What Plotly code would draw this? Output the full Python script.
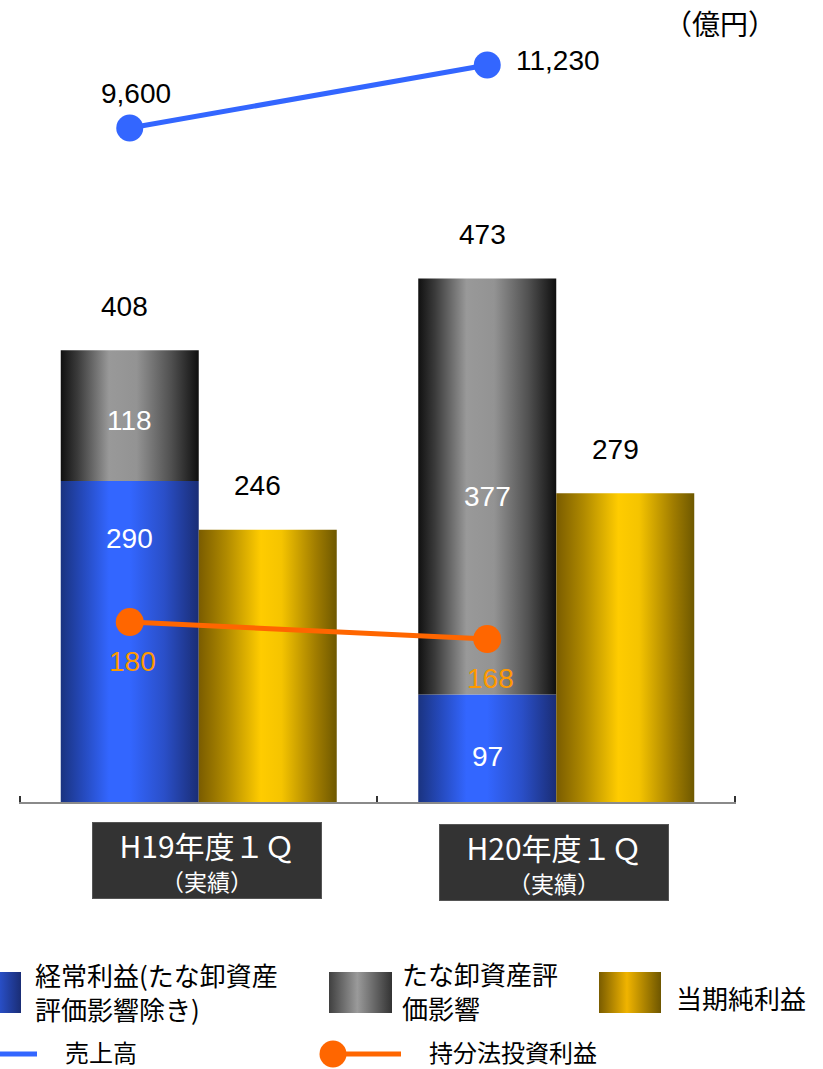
import plotly.graph_objects as go

# ---------------- data ----------------
categories = ["H19年度１Ｑ", "H20年度１Ｑ"]
category_sub = ["（実績）", "（実績）"]
ordinary_income = [408, 473]     # 経常利益 (total)
ordinary_ex_inv = [290, 97]      # 経常利益(たな卸資産評価影響除き)
inventory_effect = [118, 377]    # たな卸資産評価影響
net_income = [246, 279]          # 当期純利益
sales = [9600, 11230]            # 売上高
equity_income = [180, 168]       # 持分法投資利益
unit_label = "（億円）"
legend_names = ["経常利益(たな卸資産<br>評価影響除き)", "たな卸資産評<br>価影響", "当期純利益",
                "売上高", "持分法投資利益"]

# ---------------- styling / layout ----------------
W, H = 823, 1069
PL, PR, PB = 20, 735, 802          # plot area in pixels
PX_PER_UNIT = 1.107
BAR_W = 0.386
NUM_FONT = "Liberation Sans, Arial, sans-serif"
JP_FONT = "Noto Sans CJK JP, sans-serif"

BLUE_CS = [[0, "#1a3380"], [0.15, "#2448b8"], [0.35, "#3366ff"], [0.5, "#3366ff"],
           [0.75, "#2a4fc8"], [1, "#1a2d75"]]
GRAY_CS = [[0, "#101010"], [0.12, "#3a3a3a"], [0.35, "#999999"], [0.55, "#939393"],
           [0.8, "#505050"], [1, "#0f0f0f"]]
GOLD_CS = [[0, "#7a5c00"], [0.2, "#b08a00"], [0.45, "#ffcc00"], [0.6, "#f5c400"],
           [0.85, "#a07c00"], [1, "#6e5800"]]
LEG_BLUE_CS = [[0, "#1a3380"], [0.4, "#3366ff"], [1, "#1a2d75"]]
LEG_GRAY_CS = [[0, "#404040"], [0.45, "#9a9a9a"], [1, "#333333"]]
LEG_GOLD_CS = [[0, "#7a5c00"], [0.45, "#f0b400"], [1, "#6e5600"]]

SALES_COLOR = "#3366ff"
EQ_COLOR = "#ff6600"
EQ_LABEL_COLOR = "#ff9900"
inner_label_shift = {("blue", 0): 103, ("blue", 1): -8, ("gray", 0): -5, ("gray", 1): -10}
box_xshift = [8, -2]
box_ycenter = [860, 862]

def py(p):
    return 1 - p / H

# secondary axis ranges so lines sit where they do in the picture
y_main_range = [0, PB / PX_PER_UNIT]
y_sales_range = [-7838, 12912]
y_eq_range = [53, 619]
X_PAD = 0.003

fig = go.Figure()
centers = [i + 0.5 for i in range(len(categories))]

def rect(x0, x1, b, t, cs, axis="y"):
    fig.add_trace(go.Scatter(
        x=[x0, x1, x1, x0, x0], y=[b, b, t, t, b], mode="lines", fill="toself",
        line=dict(width=0), fillgradient=dict(type="horizontal", colorscale=cs),
        hoverinfo="skip", showlegend=False, yaxis=axis))

annotations = []
for i, c in enumerate(centers):
    base_top = ordinary_ex_inv[i]
    total = ordinary_income[i]
    rect(c - BAR_W, c, 0, base_top, BLUE_CS)
    rect(c - BAR_W, c, base_top, total, GRAY_CS)
    rect(c, c + BAR_W, 0, net_income[i], GOLD_CS)
    sc = c - BAR_W / 2
    gc = c + BAR_W / 2
    annotations.append(dict(x=sc, y=total, xref="x", yref="y", text=str(total), showarrow=False,
                            yshift=44, xshift=-5, font=dict(family=NUM_FONT, size=28, color="black")))
    annotations.append(dict(x=gc, y=net_income[i], xref="x", yref="y", text=str(net_income[i]),
                            showarrow=False, yshift=44, xshift=-10,
                            font=dict(family=NUM_FONT, size=28, color="black")))
    annotations.append(dict(x=sc, y=base_top / 2, xref="x", yref="y", text=str(ordinary_ex_inv[i]),
                            showarrow=False, yshift=inner_label_shift[("blue", i)],
                            font=dict(family=NUM_FONT, size=28, color="white")))
    annotations.append(dict(x=sc, y=(base_top + total) / 2, xref="x", yref="y",
                            text=str(inventory_effect[i]), showarrow=False,
                            yshift=inner_label_shift[("gray", i)],
                            font=dict(family=NUM_FONT, size=28, color="white")))
    # category boxes
    annotations.append(dict(x=c, y=py(box_ycenter[i]), xref="x", yref="paper", xshift=box_xshift[i],
                            yanchor="middle", xanchor="center",
                            text=(f"<span style='font-size:30px'>{categories[i]}</span><br>"
                                  f"<span style='font-size:23px'>{category_sub[i]}</span>"),
                            showarrow=False, width=228, height=75, bgcolor="#333333",
                            bordercolor="#555555", borderwidth=1, borderpad=0,
                            font=dict(family=JP_FONT, size=26, color="white")))

line_x = [c - BAR_W / 2 for c in centers]
fig.add_trace(go.Scatter(x=line_x, y=equity_income, mode="lines+markers", yaxis="y3",
                         line=dict(color=EQ_COLOR, width=5), marker=dict(size=28, color=EQ_COLOR),
                         hoverinfo="skip", showlegend=False))
fig.add_trace(go.Scatter(x=line_x, y=sales, mode="lines+markers", yaxis="y2",
                         line=dict(color=SALES_COLOR, width=5), marker=dict(size=27, color=SALES_COLOR),
                         hoverinfo="skip", showlegend=False))

for i, x in enumerate(line_x):
    annotations.append(dict(x=x, y=equity_income[i], xref="x", yref="y3", text=str(equity_income[i]),
                            showarrow=False, yshift=-39, xshift=3,
                            font=dict(family=NUM_FONT, size=28, color=EQ_LABEL_COLOR)))
annotations.append(dict(x=line_x[0], y=sales[0], xref="x", yref="y2", text=f"{sales[0]:,}",
                        showarrow=False, yshift=35, xshift=6,
                        font=dict(family=NUM_FONT, size=28, color="black")))
annotations.append(dict(x=line_x[1], y=sales[1], xref="x", yref="y2", text=f"{sales[1]:,}",
                        showarrow=False, xanchor="left", yshift=5, xshift=27,
                        font=dict(family=NUM_FONT, size=28, color="black")))

# unit label
annotations.append(dict(x=720 / W, y=py(23), xref="paper", yref="paper", text=unit_label,
                        xanchor="center", yanchor="middle",
                        showarrow=False, font=dict(family=JP_FONT, size=28, color="black")))

# ---------------- custom legend (pixel-space overlay axes) ----------------
def leg_rect(x0, x1, y0, y1, cs):
    fig.add_trace(go.Scatter(x=[x0, x1, x1, x0, x0], y=[y0, y0, y1, y1, y0], mode="lines",
                             fill="toself", line=dict(width=0),
                             fillgradient=dict(type="horizontal", colorscale=cs),
                             xaxis="x2", yaxis="y4", hoverinfo="skip", showlegend=False))

leg_rect(-39, 21, 972, 1013, LEG_BLUE_CS)
leg_rect(329, 392, 972, 1013, LEG_GRAY_CS)
leg_rect(599, 661, 972, 1013, LEG_GOLD_CS)
fig.add_trace(go.Scatter(x=[0, 37], y=[1054, 1054], mode="lines", line=dict(color=SALES_COLOR, width=5),
                         xaxis="x2", yaxis="y4", hoverinfo="skip", showlegend=False))
fig.add_trace(go.Scatter(x=[333, 401], y=[1054, 1054], mode="lines", line=dict(color=EQ_COLOR, width=5),
                         xaxis="x2", yaxis="y4", hoverinfo="skip", showlegend=False))
fig.add_trace(go.Scatter(x=[333], y=[1054], mode="markers", marker=dict(color=EQ_COLOR, size=27),
                         xaxis="x2", yaxis="y4", hoverinfo="skip", showlegend=False, cliponaxis=False))

leg_text = [(33, 991, legend_names[0], 26), (400, 990, legend_names[1], 26),
            (674, 997, legend_names[2], 26), (63, 1051, legend_names[3], 24),
            (427, 1051, legend_names[4], 24)]
for x, y, t, s in leg_text:
    annotations.append(dict(x=x / W, y=py(y), xref="paper", yref="paper", text=t, showarrow=False,
                            xanchor="left", yanchor="middle", align="left",
                            font=dict(family=JP_FONT, size=s, color="black")))

unit_px = (PR - PL) / len(categories)
fig.update_layout(
    width=W, height=H, margin=dict(l=0, r=0, t=0, b=0),
    paper_bgcolor="white", plot_bgcolor="rgba(0,0,0,0)",
    showlegend=False,
    xaxis=dict(domain=[(PL - X_PAD * unit_px) / W, (PR + X_PAD * unit_px) / W],
               range=[-X_PAD, len(categories) + X_PAD], showgrid=False, zeroline=False,
               showline=True, linecolor="#8a8a8a", linewidth=2, ticks="inside",
               tickvals=list(range(len(categories) + 1)), ticklen=6, tickwidth=1.5, tickcolor="#333333",
               showticklabels=False, fixedrange=True),
    yaxis=dict(domain=[1 - PB / H, 1], range=y_main_range, visible=False, fixedrange=True),
    yaxis2=dict(overlaying="y", range=y_sales_range, visible=False),
    yaxis3=dict(overlaying="y", range=y_eq_range, visible=False),
    xaxis2=dict(domain=[0, 1], range=[0, W], visible=False, anchor="y4"),
    yaxis4=dict(domain=[0, 1], range=[H, 0], visible=False, anchor="x2"),
    annotations=annotations,
)

post = ("document.body.style.margin='0px';"
        "var s=document.createElement('style');"
        "s.textContent='text,tspan{text-spacing-trim:space-all !important;}';"
        "document.head.appendChild(s);")
fig.write_html("out.html", config={"displayModeBar": False}, post_script=post)
